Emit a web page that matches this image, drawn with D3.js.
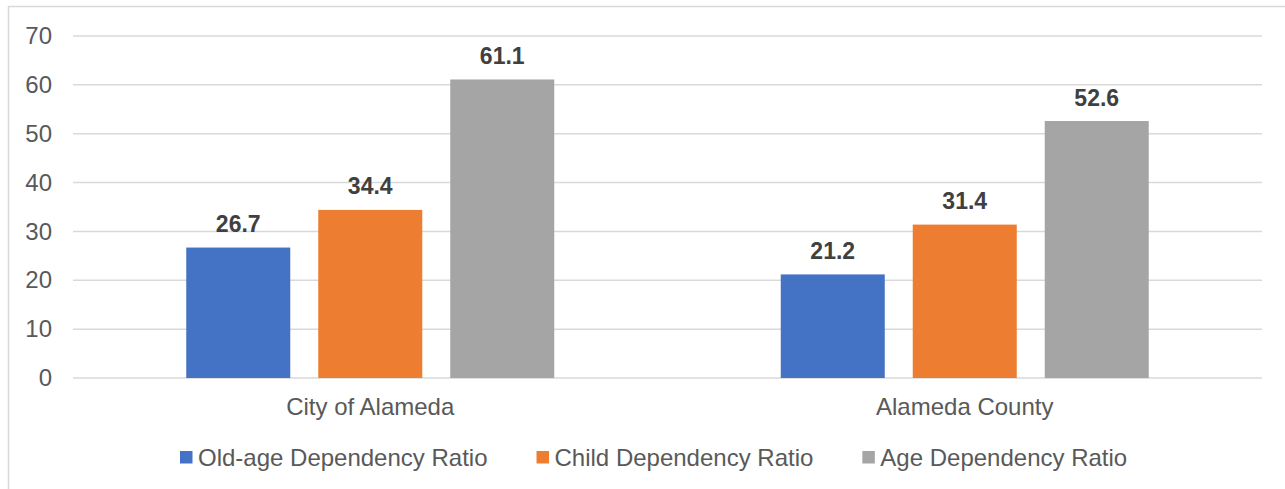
<!DOCTYPE html>
<html>
<head>
<meta charset="utf-8">
<script src="https://cdn.jsdelivr.net/npm/d3@7"></script>
<style>
  body { margin: 0; background: #fff; }
  text { font-family: "Liberation Sans", Arial, sans-serif; }
</style>
</head>
<body>
<div id="chart"></div>
<script>
// data
var categories = ["City of Alameda", "Alameda County"];
var seriesNames = ["Old-age Dependency Ratio", "Child Dependency Ratio", "Age Dependency Ratio"];
var oldAge = [26.7, 21.2];
var child = [34.4, 31.4];
var ageDep = [61.1, 52.6];
var yTicks = [0, 10, 20, 30, 40, 50, 60, 70];
var colors = ["#4472c4", "#ed7d31", "#a5a5a5"];

var seriesValues = [oldAge, child, ageDep];

var width = 1285, height = 489;
var plot = { left: 73, right: 1262, top: 36, bottom: 378 };

var svg = d3.select("#chart")
    .append("svg")
    .attr("width", width)
    .attr("height", height);

// chart border (runs off the right/bottom edge like the screenshot)
svg.append("rect")
    .attr("x", 8.5)
    .attr("y", 6.5)
    .attr("width", 1300)
    .attr("height", 500)
    .attr("fill", "none")
    .attr("stroke", "#d9d9d9")
    .attr("stroke-width", 1.5);

var y = d3.scaleLinear()
    .domain([0, 70])
    .range([plot.bottom, plot.top]);

var x0 = d3.scaleBand()
    .domain(categories)
    .range([plot.left, plot.right]);

var x1 = d3.scaleBand()
    .domain(seriesNames)
    .range([0.1905 * x0.bandwidth(), 0.8095 * x0.bandwidth()])
    .paddingInner(0.212);

// gridlines
svg.append("g")
    .selectAll("line")
    .data(yTicks)
    .enter()
    .append("line")
    .attr("x1", plot.left)
    .attr("x2", plot.right)
    .attr("y1", function (d) { return y(d) })
    .attr("y2", function (d) { return y(d) })
    .attr("stroke", "#d9d9d9")
    .attr("stroke-width", 1.5);

// y axis labels
var yAxis = svg.append("g")
    .attr("transform", "translate(" + (plot.left - 21) + ",0)")
    .call(d3.axisLeft(y).tickValues(yTicks).tickSize(0).tickPadding(0));
yAxis.select(".domain").remove();
yAxis.selectAll("text")
    .style("font-family", "Liberation Sans, Arial, sans-serif")
    .style("font-size", "24px")
    .attr("fill", "#595959");

// bars
var rows = [];
categories.forEach(function (c, i) {
    seriesNames.forEach(function (s, j) {
        rows.push({ cat: c, series: s, value: seriesValues[j][i], color: colors[j] });
    });
});

svg.append("g")
    .selectAll("rect")
    .data(rows)
    .enter()
    .append("rect")
    .attr("x", function (d) { return x0(d.cat) + x1(d.series) })
    .attr("y", function (d) { return y(d.value) })
    .attr("width", x1.bandwidth())
    .attr("height", function (d) { return y(0) - y(d.value) })
    .attr("fill", function (d) { return d.color });

// value labels
svg.append("g")
    .selectAll("text")
    .data(rows)
    .enter()
    .append("text")
    .attr("x", function (d) { return x0(d.cat) + x1(d.series) + x1.bandwidth() / 2 })
    .attr("y", function (d) { return y(d.value) - 15.5 })
    .attr("text-anchor", "middle")
    .style("font-size", "23px")
    .style("font-weight", "bold")
    .attr("fill", "#404040")
    .text(function (d) { return d.value.toFixed(1) });

// x axis category labels
var xAxis = svg.append("g")
    .attr("transform", "translate(0," + plot.bottom + ")")
    .call(d3.axisBottom(x0).tickSize(0).tickPadding(20));
xAxis.select(".domain").remove();
xAxis.selectAll("text")
    .style("font-family", "Liberation Sans, Arial, sans-serif")
    .style("font-size", "24px")
    .attr("fill", "#595959");

// legend
var legend = svg.append("g");
var lx = 180;
seriesNames.forEach(function (s, j) {
    legend.append("rect")
        .attr("x", lx)
        .attr("y", 451)
        .attr("width", 12.5)
        .attr("height", 12.5)
        .attr("fill", colors[j]);
    var t = legend.append("text")
        .attr("x", lx + 18)
        .attr("y", 465.5)
        .style("font-size", "24px")
        .attr("fill", "#595959")
        .text(s);
    lx = lx + 18 + t.node().getComputedTextLength() + 49;
});
</script>
</body>
</html>
